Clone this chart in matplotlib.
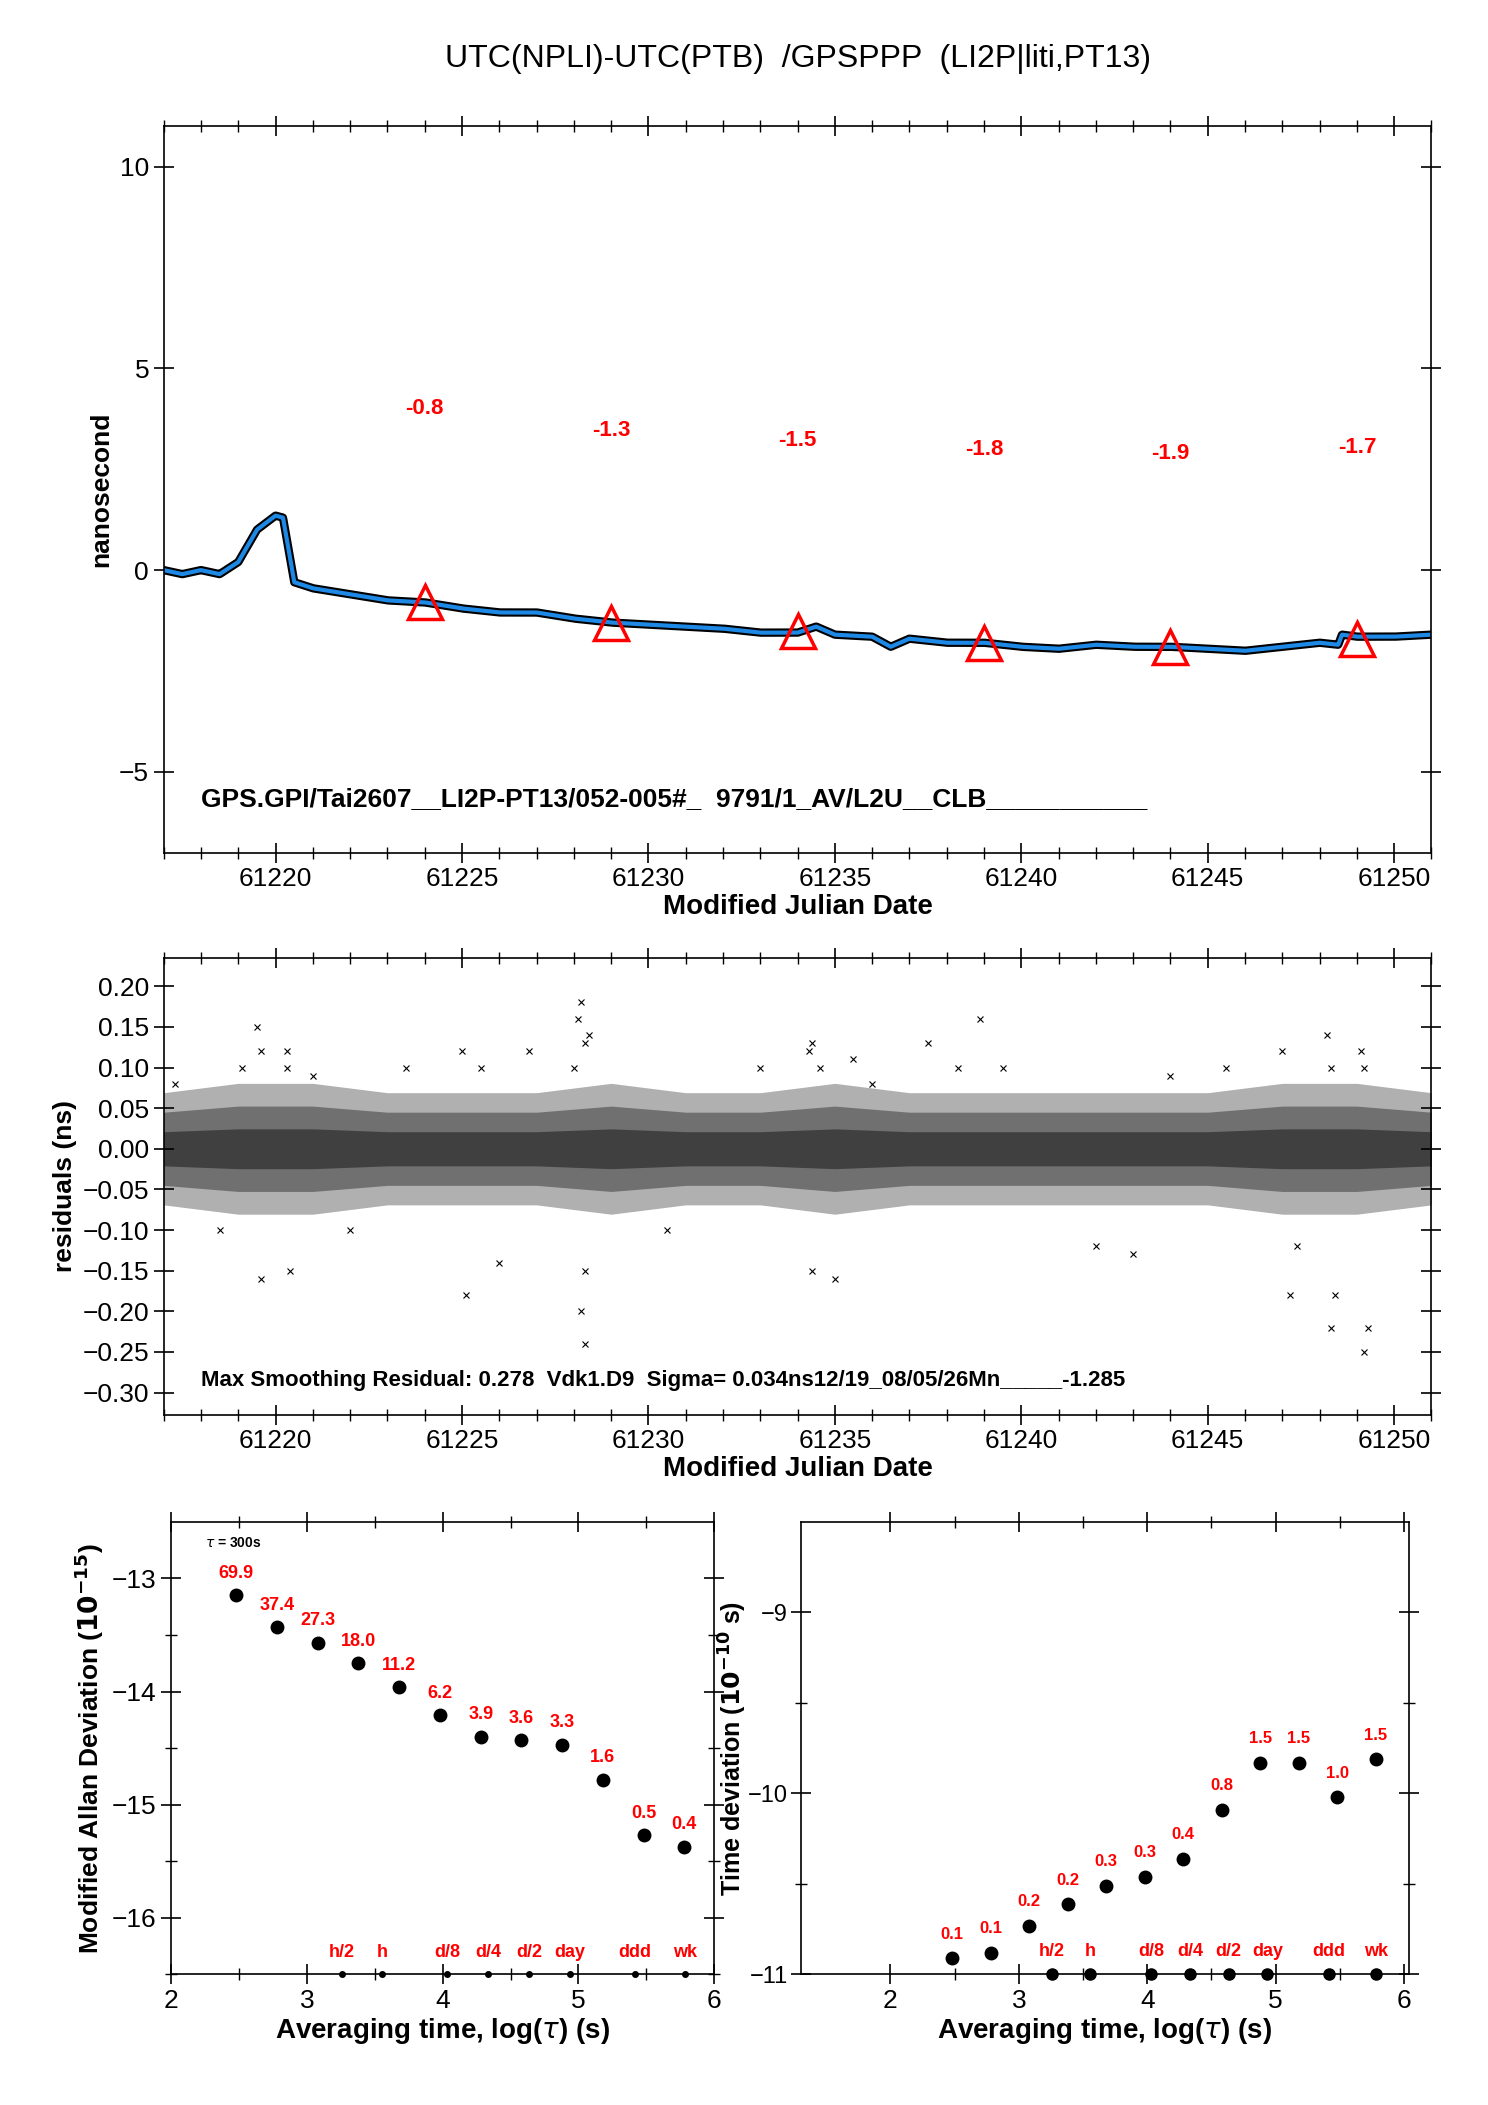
import matplotlib
matplotlib.use("Agg")
import matplotlib.pyplot as plt
import numpy as np

plt.rcParams['font.family'] = ['Liberation Sans', 'DejaVu Sans']

# ---- top panel data ----
mjd_knots = [61217, 61217.5, 61218, 61218.5, 61219, 61219.5, 61220, 61220.2, 61220.5, 61221, 61222,
             61223, 61224, 61225, 61226, 61227, 61228, 61229, 61230, 61231, 61232, 61233, 61234,
             61234.5, 61235, 61236, 61236.5, 61237, 61238, 61239, 61240, 61241, 61242, 61243,
             61244, 61245, 61246, 61247, 61248, 61248.5, 61248.6, 61249, 61250, 61251]
offset_knots = [0.0, -0.1, 0.0, -0.1, 0.2, 1.0, 1.35, 1.3, -0.3, -0.45, -0.6,
                -0.75, -0.8, -0.95, -1.05, -1.05, -1.2, -1.3, -1.35, -1.4, -1.45, -1.55, -1.55,
                -1.4, -1.6, -1.65, -1.9, -1.7, -1.8, -1.8, -1.9, -1.95, -1.85, -1.9,
                -1.9, -1.95, -2.0, -1.9, -1.8, -1.85, -1.6, -1.65, -1.65, -1.6]
tri_mjd = [61224, 61229, 61234, 61239, 61244, 61249]
tri_val = [-0.8, -1.3, -1.5, -1.8, -1.9, -1.7]
tri_lab = ['-0.8', '-1.3', '-1.5', '-1.8', '-1.9', '-1.7']
tri_lab_y = [4.0, 3.45, 3.2, 3.0, 2.9, 3.05]

# ---- residual panel data ----
env_mjd = [61217, 61219, 61221, 61223, 61225, 61227, 61229, 61231, 61233, 61235, 61237, 61239,
           61241, 61243, 61245, 61247, 61249, 61251]
env_hi = [0.06, 0.07, 0.07, 0.06, 0.06, 0.06, 0.07, 0.06, 0.06, 0.07, 0.06, 0.06,
          0.06, 0.06, 0.06, 0.07, 0.07, 0.06]
env_lo = [-0.06, -0.07, -0.07, -0.06, -0.06, -0.06, -0.07, -0.06, -0.06, -0.07, -0.06, -0.06,
          -0.06, -0.06, -0.06, -0.07, -0.07, -0.06]
out_mjd = [61217.3, 61218.5, 61219.1, 61219.5, 61219.6, 61220.3, 61220.4, 61221.0, 61222.0,
           61223.5, 61225.0, 61225.1, 61225.5, 61226.0, 61226.8, 61228.0, 61228.1, 61228.2,
           61228.2, 61228.3, 61228.3, 61228.4, 61230.5, 61233.0, 61234.3, 61234.4, 61234.6,
           61235.0, 61235.5, 61236.0, 61237.5, 61238.3, 61238.9, 61239.5, 61242.0, 61243.0,
           61244.0, 61245.5, 61247.0, 61247.2, 61247.4, 61248.2, 61248.3, 61248.4, 61249.1,
           61249.2, 61249.3, 61219.6, 61220.3, 61228.3, 61234.4, 61248.3, 61249.2]
out_res = [0.08, -0.1, 0.1, 0.15, -0.16, 0.12, -0.15, 0.09, -0.1, 0.1, 0.12, -0.18, 0.1,
           -0.14, 0.12, 0.1, 0.16, 0.18, -0.2, -0.24, -0.15, 0.14, -0.1, 0.1, 0.12, -0.15,
           0.1, -0.16, 0.11, 0.08, 0.13, 0.1, 0.16, 0.1, -0.12, -0.13, 0.09, 0.1, 0.12, -0.18,
           -0.12, 0.14, -0.22, -0.18, 0.12, -0.25, -0.22, 0.12, 0.1, 0.13, 0.13, 0.1, 0.1]

# ---- stability panels ----
logtau = [2.48, 2.78, 3.08, 3.38, 3.68, 3.98, 4.28, 4.58, 4.88, 5.18, 5.48, 5.78]
mdev = [-13.15, -13.43, -13.57, -13.75, -13.96, -14.21, -14.40, -14.43, -14.47, -14.78, -15.27, -15.37]
mdev_lab = ['69.9', '37.4', '27.3', '18.0', '11.2', '6.2', '3.9', '3.6', '3.3', '1.6', '0.5', '0.4']
tdev = [-10.91, -10.88, -10.73, -10.61, -10.51, -10.46, -10.36, -10.09, -9.83, -9.83, -10.02, -9.81]
tdev_lab = ['0.1', '0.1', '0.2', '0.2', '0.3', '0.3', '0.4', '0.8', '1.5', '1.5', '1.0', '1.5']
mark_x = [3.255, 3.556, 4.033, 4.334, 4.635, 4.936, 5.413, 5.782]
mark_lab = ['h/2', 'h', 'd/8', 'd/4', 'd/2', 'day', 'ddd', 'wk']

fig = plt.figure(figsize=(14.88, 21.05), dpi=100)
RED = '#ff0000'

def style(ax):
    ax.tick_params(direction='inout', length=14, width=1.2, labelsize=19, top=True, right=True)
    ax.tick_params(which='minor', direction='inout', length=8, width=1.0, top=True)
    for s in ax.spines.values():
        s.set_linewidth(1.2)

# top
ax1 = fig.add_axes([0.110, 0.595, 0.852, 0.345])
x = np.linspace(61217, 61251, 3000)
y = np.interp(x, mjd_knots, offset_knots)
ax1.plot(x, y, color='black', lw=6)
ax1.plot(x, y, color='#1e88e5', lw=3)
ax1.plot(tri_mjd, tri_val, linestyle='none', marker='^', ms=24, mfc='none', mec=RED, mew=2.5)
for xm, yl, t in zip(tri_mjd, tri_lab_y, tri_lab):
    ax1.text(xm, yl, t, color=RED, fontsize=16, fontweight='bold', ha='center', va='center')
ax1.set_xlim(61217, 61251)
ax1.set_ylim(-7, 11)
ax1.set_xticks(range(61220, 61251, 5))
ax1.set_xticks(range(61217, 61252), minor=True)
ax1.set_yticks([-5, 0, 5, 10])
ax1.set_yticklabels(['\u22125', '0', '5', '10'])
style(ax1)
ax1.set_ylabel('nanosecond', fontsize=19, fontweight='bold')
ax1.set_xlabel('Modified Julian Date', fontsize=20, fontweight='bold', labelpad=2)
ax1.text(61218, -5.85, 'GPS.GPI/Tai2607__LI2P-PT13/052-005#_  9791/1_AV/L2U__CLB___________',
         fontsize=19, fontweight='bold')
fig.text(0.536, 0.968, 'UTC(NPLI)-UTC(PTB)  /GPSPPP  (LI2P|liti,PT13)', fontsize=23, ha='center')

# residuals
ax2 = fig.add_axes([0.110, 0.328, 0.852, 0.217])
ex = np.linspace(61217, 61251, 2000)
hi = np.interp(ex, env_mjd, env_hi)
lo = np.interp(ex, env_mjd, env_lo)
ax2.fill_between(ex, lo * 1.15, hi * 1.15, color='#b0b0b0', lw=0)
ax2.fill_between(ex, lo * 0.75, hi * 0.75, color='#707070', lw=0)
ax2.fill_between(ex, lo * 0.35, hi * 0.35, color='#404040', lw=0)
ax2.plot(out_mjd, out_res, linestyle='none', marker='x', ms=4, color='black', mew=0.8)
ax2.set_xlim(61217, 61251)
ax2.set_ylim(-0.327, 0.235)
ax2.set_xticks(range(61220, 61251, 5))
ax2.set_xticks(range(61217, 61252), minor=True)
yt = [0.20, 0.15, 0.10, 0.05, 0.0, -0.05, -0.10, -0.15, -0.20, -0.25, -0.30]
ax2.set_yticks(yt)
ax2.set_yticklabels([('%.2f' % v).replace('-', '\u2212') for v in yt])
style(ax2)
ax2.set_ylabel('residuals (ns)', fontsize=19, fontweight='bold')
ax2.set_xlabel('Modified Julian Date', fontsize=20, fontweight='bold', labelpad=2)
ax2.text(61218, -0.292, 'Max Smoothing Residual: 0.278  Vdk1.D9  Sigma= 0.034ns12/19_08/05/26Mn_____-1.285',
         fontsize=16, fontweight='bold')

# MDEV
ax3 = fig.add_axes([0.115, 0.062, 0.365, 0.215])
ax3.plot(logtau, mdev, 'o', color='black', ms=9)
for xx, yy, t in zip(logtau, mdev, mdev_lab):
    ax3.text(xx, yy + 0.12, t, color=RED, fontsize=13, fontweight='bold', ha='center', va='bottom')
ax3.plot(mark_x, [-16.5] * len(mark_x), 'o', color='black', ms=4, clip_on=False)
for xx, t in zip(mark_x, mark_lab):
    ax3.text(xx, -16.38, t, color=RED, fontsize=13, fontweight='bold', ha='center', va='bottom')
ax3.text(2.25, -12.72, r'$\tau$ = 300s', fontsize=10, fontweight='bold')
ax3.set_xlim(2, 6)
ax3.set_ylim(-16.5, -12.5)
ax3.set_xticks([2, 3, 4, 5, 6])
ax3.set_xticks([2.5, 3.5, 4.5, 5.5], minor=True)
ax3.set_yticks([-16, -15, -14, -13])
ax3.set_yticks([-16.5, -15.5, -14.5, -13.5], minor=True)
ax3.set_yticklabels(['\u221216', '\u221215', '\u221214', '\u221213'])
style(ax3)
ax3.tick_params(which='minor', right=True, left=True, direction='inout', length=8)
ax3.set_ylabel(r'Modified Allan Deviation ($\mathbf{10^{-15}}$)', fontsize=19, fontweight='bold')
ax3.set_xlabel(r'Averaging time, log($\tau$) (s)', fontsize=20, fontweight='bold', labelpad=2)

# TDEV
ax4 = fig.add_axes([0.538, 0.062, 0.409, 0.215])
ax4.plot(logtau, tdev, 'o', color='black', ms=9)
for xx, yy, t in zip(logtau, tdev, tdev_lab):
    ax4.text(xx, yy + 0.09, t, color=RED, fontsize=12, fontweight='bold', ha='center', va='bottom')
ax4.plot(mark_x, [-11] * len(mark_x), 'o', color='black', ms=8, clip_on=False)
for xx, t in zip(mark_x, mark_lab):
    ax4.text(xx, -10.92, t, color=RED, fontsize=13, fontweight='bold', ha='center', va='bottom')
ax4.set_xlim(1.3, 6.04)
ax4.set_ylim(-11, -8.5)
ax4.set_xticks([2, 3, 4, 5, 6])
ax4.set_xticks([2.5, 3.5, 4.5, 5.5], minor=True)
ax4.set_yticks([-11, -10, -9])
ax4.set_yticks([-10.5, -9.5], minor=True)
ax4.set_yticklabels(['\u221211', '\u221210', '\u22129'])
style(ax4)
ax4.tick_params(axis='y', labelsize=17, pad=2)
ax4.tick_params(which='minor', right=True, left=True, direction='inout', length=8)
ax4.set_ylabel(r'Time deviation ($\mathbf{10^{-10}}$ s)', fontsize=18, fontweight='bold')
ax4.yaxis.set_label_coords(-0.085, 0.5)
ax4.set_xlabel(r'Averaging time, log($\tau$) (s)', fontsize=20, fontweight='bold', labelpad=2)

fig.savefig('out.png', dpi=100)
